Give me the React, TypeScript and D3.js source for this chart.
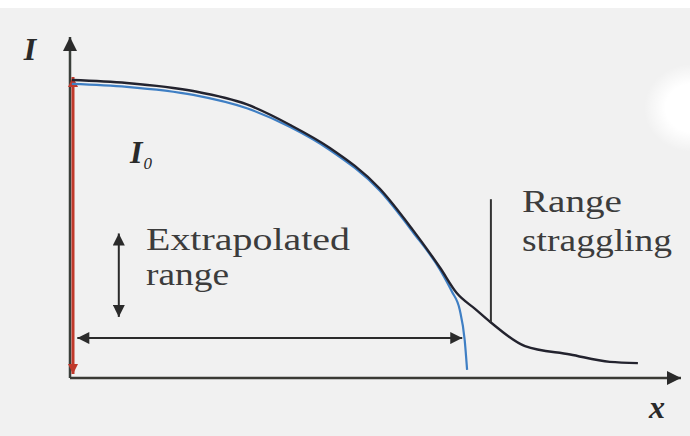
import React, { useEffect, useRef } from 'react';
import * as d3 from 'd3';

// depth x (arbitrary units) vs transmitted intensity I (I0 = 1)
const measuredX = [0.03, 0.93, 2.02, 2.9, 3.61, 4.26, 5.08, 5.62, 6.07, 6.34, 6.64, 6.89, 7.46, 8.2, 8.85, 9.31];
const measuredI = [1.0, 0.99, 0.963, 0.918, 0.849, 0.772, 0.635, 0.497, 0.369, 0.285, 0.232, 0.188, 0.107, 0.079, 0.054, 0.05];

const idealX = [0.03, 0.93, 2.02, 2.9, 3.61, 4.26, 5.08, 5.62, 6.07, 6.26, 6.39, 6.47, 6.51];
const idealI = [0.987, 0.977, 0.95, 0.905, 0.842, 0.765, 0.628, 0.49, 0.362, 0.29, 0.228, 0.128, 0.027];

const extrapolatedRange = [0.12, 6.43];
const rangeLevel = 0.134;
const stragglingX = 6.9;
const stragglingSpan = [0.188, 0.6];
const intensitySpan = [0.485, 0.205];

export default function App() {
  const ref = useRef<SVGSVGElement | null>(null);

  useEffect(() => {
    const width = 690;
    const height = 436;
    const svg = d3.select(ref.current);
    svg.selectAll('*').remove();

    const x = d3.scaleLinear().domain([0, 10]).range([70, 680]);
    const y = d3.scaleLinear().domain([0, 1]).range([378, 80]);

    const defs = svg.append('defs');
    const marker = (id: string, color: string, w: number, h: number) => {
      defs.append('marker')
        .attr('id', id)
        .attr('viewBox', '0 0 10 10')
        .attr('refX', 10)
        .attr('refY', 5)
        .attr('markerUnits', 'userSpaceOnUse')
        .attr('markerWidth', w)
        .attr('markerHeight', h)
        .attr('orient', 'auto-start-reverse')
        .append('path')
        .attr('d', 'M0,0 L10,5 L0,10 Z')
        .attr('fill', color);
    };
    marker('axisHead', '#2b2b2b', 16, 14);
    marker('redHead', '#c0392b', 12, 10);
    marker('blackHead', '#2b2b2b', 14, 12);

    const glow = defs.append('radialGradient').attr('id', 'glow');
    glow.append('stop').attr('offset', '55%').attr('stop-color', '#ffffff').attr('stop-opacity', 1);
    glow.append('stop').attr('offset', '100%').attr('stop-color', '#ffffff').attr('stop-opacity', 0);

    svg.append('rect').attr('width', width).attr('height', height).attr('fill', '#ffffff');
    svg.append('rect').attr('y', 8).attr('width', width).attr('height', height - 8).attr('fill', '#f1f1f1');
    svg.append('ellipse').attr('cx', 692).attr('cy', 108).attr('rx', 48).attr('ry', 44).attr('fill', 'url(#glow)');

    // axes
    svg.append('line')
      .attr('x1', x(0)).attr('y1', y(0)).attr('x2', x(0)).attr('y2', 37)
      .attr('stroke', '#3a3f3a').attr('stroke-width', 2.5)
      .attr('marker-end', 'url(#axisHead)');
    svg.append('line')
      .attr('x1', x(0)).attr('y1', y(0)).attr('x2', 681).attr('y2', y(0))
      .attr('stroke', '#3a3a35').attr('stroke-width', 2.5)
      .attr('marker-end', 'url(#axisHead)');

    // I0 arrow
    svg.append('line')
      .attr('x1', x(0) + 3).attr('y1', y(0) - 4).attr('x2', x(0) + 3).attr('y2', y(1.01))
      .attr('stroke', '#c0392b').attr('stroke-width', 3)
      .attr('marker-start', 'url(#redHead)')
      .attr('marker-end', 'url(#redHead)');

    const line = d3.line<[number, number]>()
      .x(d => x(d[0]))
      .y(d => y(d[1]))
      .curve(d3.curveMonotoneX);

    svg.append('path')
      .attr('d', line(idealX.map((v, i) => [v, idealI[i]] as [number, number])))
      .attr('fill', 'none').attr('stroke', '#3f7fc4').attr('stroke-width', 2.2);
    svg.append('path')
      .attr('d', line(measuredX.map((v, i) => [v, measuredI[i]] as [number, number])))
      .attr('fill', 'none').attr('stroke', '#23232e').attr('stroke-width', 2.4);

    // extrapolated range arrow
    svg.append('line')
      .attr('x1', x(extrapolatedRange[0])).attr('y1', y(rangeLevel))
      .attr('x2', x(extrapolatedRange[1])).attr('y2', y(rangeLevel))
      .attr('stroke', '#2b2b2b').attr('stroke-width', 2)
      .attr('marker-start', 'url(#blackHead)')
      .attr('marker-end', 'url(#blackHead)');
    svg.append('line')
      .attr('x1', x(0.8)).attr('y1', y(intensitySpan[0]))
      .attr('x2', x(0.8)).attr('y2', y(intensitySpan[1]))
      .attr('stroke', '#2b2b2b').attr('stroke-width', 2)
      .attr('marker-start', 'url(#blackHead)')
      .attr('marker-end', 'url(#blackHead)');

    // straggling pointer
    svg.append('line')
      .attr('x1', x(stragglingX)).attr('y1', y(stragglingSpan[0]))
      .attr('x2', x(stragglingX)).attr('y2', y(stragglingSpan[1]))
      .attr('stroke', '#333').attr('stroke-width', 2);

    const serif = "'Liberation Serif', 'DejaVu Serif', 'Times New Roman', serif";
    const text = (t: string, tx: number, ty: number, len: number) =>
      svg.append('text')
        .attr('x', tx).attr('y', ty)
        .style('font-family', serif).style('font-size', '31px')
        .attr('fill', '#3c3c3c')
        .attr('textLength', len).attr('lengthAdjust', 'spacingAndGlyphs')
        .text(t);
    text('Extrapolated', 146, 250, 204);
    text('range', 146, 285, 83);
    text('Range', 522, 212, 100);
    text('straggling', 522, 251, 150);

    const bold = (sel: d3.Selection<SVGTextElement, unknown, null, undefined>) =>
      sel.style('font-family', serif).style('font-size', '32px')
        .style('font-style', 'italic').style('font-weight', 'bold')
        .attr('fill', '#2a2a2a');

    bold(svg.append('text').attr('x', 30).attr('y', 60).attr('text-anchor', 'middle')).text('I');
    const i0 = bold(svg.append('text').attr('x', 130).attr('y', 163));
    i0.append('tspan').text('I');
    i0.append('tspan').style('font-size', '17px').style('font-weight', 'normal').attr('dx', 1).attr('dy', 6).text('0');
    bold(svg.append('text').attr('x', 657).attr('y', 418).attr('text-anchor', 'middle')).text('x');
  }, []);

  return (
    <svg ref={ref} width={690} height={436}
      style={{ position: 'fixed', left: 0, top: 0, display: 'block' }} />
  );
}
